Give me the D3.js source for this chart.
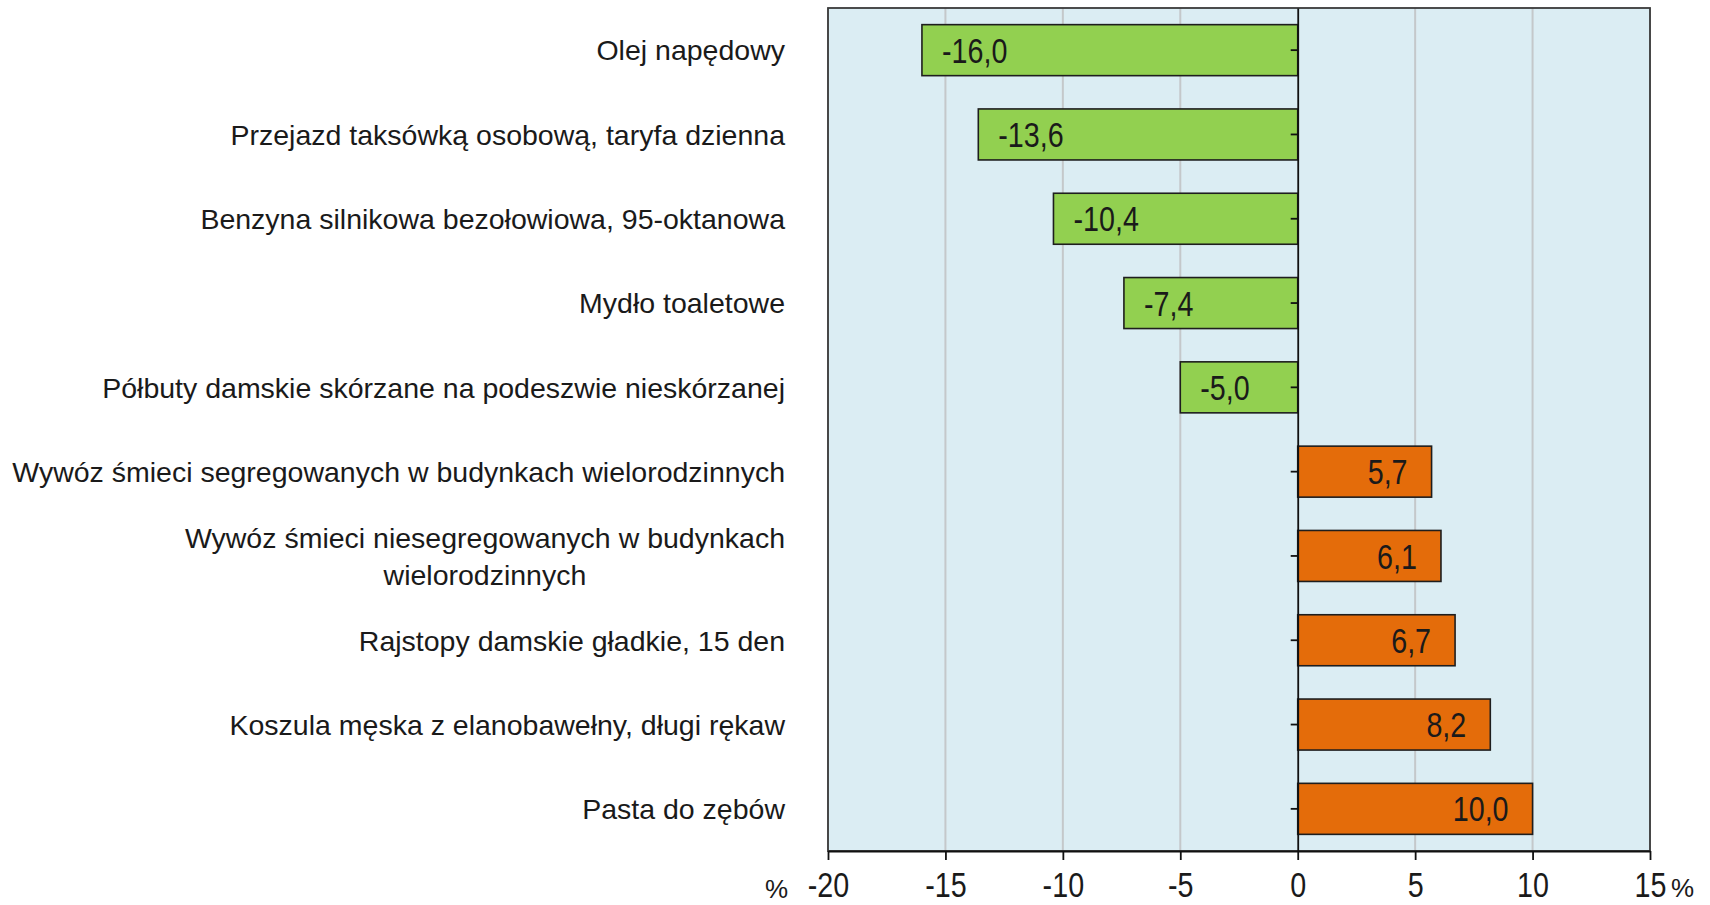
<!DOCTYPE html>
<html>
<head>
<meta charset="utf-8">
<script src="https://cdn.jsdelivr.net/npm/d3@7"></script>
<style>
  body { margin: 0; background: #fff; }
  svg { display: block; }
  .cat { font-family: "Liberation Sans", Arial, sans-serif; font-size: 28.5px; fill: #1a1a1a; }
  .val { font-family: "Liberation Sans", Arial, sans-serif; font-size: 35px; fill: #1a1a1a; }
  .xaxis text { font-family: "Liberation Sans", Arial, sans-serif; font-size: 35px; fill: #1a1a1a; }
  .pct { font-family: "Liberation Sans", Arial, sans-serif; font-size: 26px; fill: #1a1a1a; }
</style>
</head>
<body>
<script>
// values (% change)
var categories = [
  "Olej napędowy",
  "Przejazd taksówką osobową, taryfa dzienna",
  "Benzyna silnikowa bezołowiowa, 95-oktanowa",
  "Mydło toaletowe",
  "Półbuty damskie skórzane na podeszwie nieskórzanej",
  "Wywóz śmieci segregowanych w budynkach wielorodzinnych",
  "Wywóz śmieci niesegregowanych w budynkach\nwielorodzinnych",
  "Rajstopy damskie gładkie, 15 den",
  "Koszula męska z elanobawełny, długi rękaw",
  "Pasta do zębów"
];
var values = [-16.0, -13.6, -10.4, -7.4, -5.0, 5.7, 6.1, 6.7, 8.2, 10.0];
var xTicks = [-20, -15, -10, -5, 0, 5, 10, 15];

var W = 1710, H = 905;
var pL = 828, pR = 1650, pT = 8, pB = 851;
var narrow = 0.82; // condensed look of the numbers

var svg = d3.select("body").append("svg")
    .attr("width", W)
    .attr("height", H);

var x = d3.scaleLinear().domain([-20, 15]).range([pL, pR]);
var y = d3.scaleBand().domain(categories).range([pT, pB])
    .paddingInner(0.395).paddingOuter(0.1975);

var data = categories.map(function(c, i) { return { cat: c, value: values[i] }; });
var fmt = function(v) { return v.toFixed(1).replace(".", ","); };

// plot background
svg.append("rect")
    .attr("x", pL).attr("y", pT)
    .attr("width", pR - pL).attr("height", pB - pT)
    .attr("fill", "#dbedf3");

// gridlines
svg.append("g").selectAll("line")
    .data(xTicks.filter(function(d) { return d !== 0; }))
    .enter().append("line")
    .attr("x1", function(d) { return x(d); }).attr("x2", function(d) { return x(d); })
    .attr("y1", pT).attr("y2", pB)
    .attr("stroke", "#c4c8ca").attr("stroke-width", 2);

// frame
svg.append("rect")
    .attr("x", pL).attr("y", pT)
    .attr("width", pR - pL).attr("height", pB - pT)
    .attr("fill", "none").attr("stroke", "#3a3a3a").attr("stroke-width", 1.8);

// bars
svg.append("g").selectAll("rect")
    .data(data)
    .enter().append("rect")
    .attr("x", function(d) { return x(Math.min(0, d.value)); })
    .attr("y", function(d) { return y(d.cat); })
    .attr("width", function(d) { return Math.abs(x(d.value) - x(0)); })
    .attr("height", y.bandwidth())
    .attr("fill", function(d) { return d.value < 0 ? "#92d050" : "#e46c0a"; })
    .attr("stroke", "#1e1e1e").attr("stroke-width", 1.6);

// zero axis
svg.append("g")
    .attr("transform", "translate(" + x(0) + ",0)")
    .call(d3.axisLeft(y).tickSize(7).tickSizeOuter(0).tickFormat(""))
    .call(function(g) {
      g.selectAll("path, line").attr("stroke", "#111").attr("stroke-width", 1.8);
    });

// value labels
svg.append("g").selectAll("text")
    .data(data)
    .enter().append("text")
    .attr("class", "val")
    .attr("transform", function(d) {
      var tx = d.value < 0 ? x(d.value) + 20 : x(d.value) - 24;
      var ty = y(d.cat) + y.bandwidth() / 2;
      return "translate(" + tx + "," + ty + ") scale(" + narrow + ",1)";
    })
    .attr("dy", "0.36em")
    .attr("text-anchor", function(d) { return d.value < 0 ? "start" : "end"; })
    .text(function(d) { return fmt(d.value); });

// x axis
var xAxis = svg.append("g")
    .attr("class", "xaxis")
    .attr("transform", "translate(0," + pB + ")")
    .call(d3.axisBottom(x).tickValues(xTicks).tickSize(9).tickSizeOuter(0)
      .tickFormat(function(d) { return String(d); }));
xAxis.selectAll("path, line").attr("stroke", "#111").attr("stroke-width", 1.8);
xAxis.selectAll("text").attr("y", 46).attr("dy", 0)
    .attr("transform", "scale(" + narrow + ",1)");

svg.append("text").attr("class", "pct").attr("x", 765).attr("y", 898).text("%");
svg.append("text").attr("class", "pct").attr("x", 1671).attr("y", 897).text("%");

// category labels
var labelRight = 785;
svg.append("g").selectAll("text")
    .data(data)
    .enter().append("text")
    .attr("class", "cat")
    .each(function(d) {
      var lines = d.cat.split("\n");
      var t = d3.select(this);
      var cy = y(d.cat) + y.bandwidth() / 2;
      var lh = 37;
      var y0 = cy - (lines.length - 1) * lh / 2;
      var spans = lines.map(function(l, i) {
        return t.append("tspan").attr("y", y0 + i * lh).attr("dy", "0.36em").text(l);
      });
      if (lines.length === 1) {
        t.attr("text-anchor", "end");
        spans[0].attr("x", labelRight);
      } else {
        var w = d3.max(spans, function(s) { return s.node().getComputedTextLength(); });
        t.attr("text-anchor", "middle");
        spans.forEach(function(s) { s.attr("x", labelRight - w / 2); });
      }
    });
</script>
</body>
</html>
